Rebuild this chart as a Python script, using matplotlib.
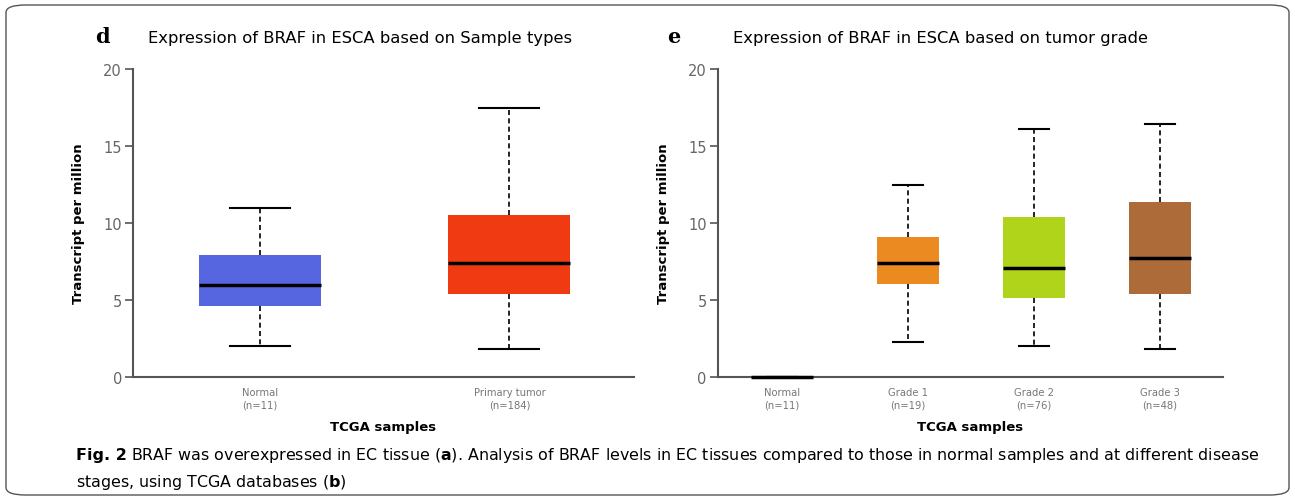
import matplotlib
matplotlib.use("Agg")
from matplotlib import pyplot as plt
from matplotlib.patches import FancyBboxPatch

# panel d: sample types
types_labels = ["Normal\n(n=11)", "Primary tumor\n(n=184)"]
types_low = [2.0, 1.8]
types_q1 = [4.6, 5.4]
types_med = [6.0, 7.4]
types_q3 = [7.9, 10.55]
types_high = [11.0, 17.5]
types_colors = ["#5566e0", "#ef3a12"]

# panel e: tumor grade
grade_labels = ["Normal\n(n=11)", "Grade 1\n(n=19)", "Grade 2\n(n=76)", "Grade 3\n(n=48)"]
grade_low = [0.0, 2.25, 2.0, 1.8]
grade_q1 = [0.0, 6.05, 5.15, 5.4]
grade_med = [0.0, 7.4, 7.1, 7.7]
grade_q3 = [0.0, 9.1, 10.4, 11.35]
grade_high = [0.0, 12.45, 16.1, 16.4]
grade_colors = ["#5566e0", "#ec8a22", "#b0d41a", "#ae6b3a"]


def draw_panel(ax, labels, low, q1, med, q3, high, colors):
    stats = []
    for i in range(len(labels)):
        stats.append({"whislo": low[i], "q1": q1[i], "med": med[i],
                      "q3": q3[i], "whishi": high[i]})
    pos = list(range(1, len(labels) + 1))
    bp = ax.bxp(stats, positions=pos, widths=0.49, showfliers=False,
                patch_artist=True,
                boxprops=dict(linewidth=0),
                medianprops=dict(color="black", linewidth=2.5),
                whiskerprops=dict(color="black", linestyle=(0, (3, 2)), linewidth=1.2),
                capprops=dict(color="black", linewidth=1.5),
                capwidths=0.24)
    for patch, c in zip(bp["boxes"], colors):
        patch.set_facecolor(c)
        patch.set_edgecolor(c)
    for m in bp["medians"]:
        m.set_zorder(4)
        m.set_clip_on(False)
    ax.set_xlim(0.49, len(labels) + 0.5)
    ax.set_ylim(0, 20)
    ax.set_yticks([0, 5, 10, 15, 20])
    ax.set_xticks(pos)
    ax.set_xticklabels(labels, fontsize=7.2, color="#777777", linespacing=1.4)
    ax.tick_params(axis="x", length=0, pad=7)
    ax.tick_params(axis="y", length=6, width=1.2, color="#555555",
                   labelsize=10.5, labelcolor="#666666", pad=2)
    for s in ["top", "right"]:
        ax.spines[s].set_visible(False)
    for s in ["left", "bottom"]:
        ax.spines[s].set_color("#555555")
        ax.spines[s].set_linewidth(1.5)
    ax.set_ylabel("Transcript per million", fontsize=9.5, fontweight="bold", labelpad=13)
    ax.set_xlabel("TCGA samples", fontsize=9.5, fontweight="bold", labelpad=7)


fig = plt.figure(figsize=(12.95, 5.02), dpi=100)

ax1 = fig.add_axes([0.1027, 0.247, 0.3869, 0.6135])
draw_panel(ax1, types_labels, types_low, types_q1, types_med, types_q3,
           types_high, types_colors)

ax2 = fig.add_axes([0.5544, 0.247, 0.39, 0.6135])
draw_panel(ax2, grade_labels, grade_low, grade_q1, grade_med, grade_q3,
           grade_high, grade_colors)

# panel letters and titles
fig.text(95 / 1295, 1 - 37 / 502, "d", fontsize=15, fontweight="bold",
         family="DejaVu Serif", va="center")
fig.text(148 / 1295, 1 - 38 / 502, "Expression of BRAF in ESCA based on Sample types",
         fontsize=11.8, va="center")
fig.text(667 / 1295, 1 - 37 / 502, "e", fontsize=15, fontweight="bold",
         family="DejaVu Serif", va="center")
fig.text(733 / 1295, 1 - 38 / 502, "Expression of BRAF in ESCA based on tumor grade",
         fontsize=11.8, va="center")

# caption
fig.text(76 / 1295, 1 - 456 / 502, "Fig. 2", fontsize=11.5, fontweight="bold", va="center")
fig.text(131 / 1295, 1 - 456 / 502,
         r"BRAF was overexpressed in EC tissue ($\mathbf{a}$). Analysis of BRAF levels in EC tissues "
         "compared to those in normal samples and at different disease",
         fontsize=11.42, va="center")
fig.text(76 / 1295, 1 - 483 / 502, r"stages, using TCGA databases ($\mathbf{b}$)",
         fontsize=11.42, va="center")

# rounded frame
frame = FancyBboxPatch((6 / 1295, 6 / 502), 1283 / 1295, 490 / 502,
                       boxstyle="round,pad=0,rounding_size=0.015",
                       transform=fig.transFigure, fill=False,
                       edgecolor="#555555", linewidth=1.0)
fig.patches.append(frame)

fig.savefig("out.png", dpi=100)
